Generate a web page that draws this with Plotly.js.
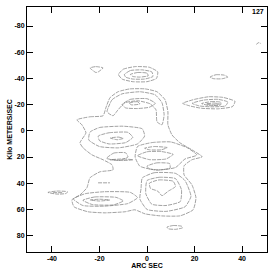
<!DOCTYPE html>
<html><head><meta charset="utf-8">
<script src="https://cdn.plot.ly/plotly-3.0.1.min.js"></script>
<style>html,body{margin:0;padding:0;background:#fff}#chart{width:273px;height:273px}</style>
</head><body><div id="chart"></div>
<script>
// Contour lines (position ARC SEC, velocity km/s), one array pair per contour level, null separates rings
const level1_x = [-24,-21.5,-18.5,-20.5,-21.5,-24, null,
  -12,-10,-5,1,4.5,4,0,-6,-10.5,-12, null,
  26.5,29,32.5,34,31.5,28,26.5, null,
  15,20,26,32,37,36,30,23,18,15, null,
  -29.5,-24,-18.5,-17.3,-15.6,-12.2,-7.2,-0.8,4.2,7.6,8.8,8.8,10.5,13.9,18.9,23.2,18.9,15.6,15.6,18.9,20.6,19.4,13.9,5.5,-0.8,-5.1,-9.3,-17.7,-24.8,-30.7,-31.6,-28.2,-25.3,-24,-19.8,-14.3,-14.7,-18.5,-23.2,-26.9,-28.2,-25.7,-27.4,-29.5, null,
  -41.7,-38,-33.5,-34,-38,-41.7, null,
  8.4,11,14.5,15,12,9,8.4, null,
  46,47,48];
const level1_y = [-48,-49,-48,-45,-44.5,-48, null,
  -43,-47,-49,-48.5,-45,-40,-37.5,-37.5,-39.5,-43, null,
  -41,-42.8,-42.5,-41,-39.7,-39.8,-41, null,
  -21,-24,-26,-25.5,-22.5,-18.5,-16.8,-17.2,-19,-21, null,
  -8.4,-10.7,-11.5,-17.6,-25.2,-29.8,-32,-32,-29.8,-23.7,-14.5,-4.6,3.1,9.2,14.5,19.8,22.1,26.7,33.6,41.2,51.1,60.3,64.9,64.9,63.4,60.3,61.8,62.6,61.8,58,52.7,48.9,43.5,35.9,31.3,29.8,26,22.1,18.3,13,9.2,1.5,-4.6,-8.4, null,
  47,46,46.5,47.8,48.3,47, null,
  73.5,72.3,72.8,74,75.2,74.8,73.5, null,
  -66,-67.3,-66.5];
const level2_x = [-9.5,-7,-2,2,2.5,-1,-6,-9,-9.5, null,
  19,24,30,34,33,27,22,19, null,
  -16.8,-14.7,-10.5,-2.9,3.4,6.3,7.2,6.3,4.2,3.8,1.3,-3.8,-9.3,-12.2,-14.3,-16.8, null,
  -24,-20,-10,-2,-1,-4,-12,-20,-24.5,-24, null,
  -4,2,10,17,21,16,12,4,-3,-5,-4, null,
  -31,-26,-18,-7,-4,-8,-18,-27,-31, null,
  -2,3,12,16,18.5,16,8,0,-3,-2.5,-2, null,
  -39.5,-35.5];
const level2_y = [-43,-46,-46.5,-45,-41.5,-39.5,-39.5,-41,-43, null,
  -21,-23.5,-24,-22,-19,-18.3,-19,-21, null,
  -14.5,-23.7,-28.2,-29.8,-27.5,-21.4,-12.2,-4.6,-6.9,-16,-20.6,-22.9,-21.4,-16,-11.5,-14.5, null,
  1,-2.5,-3.5,-1.5,4,10,13,12,7,1, null,
  12,9,8.5,13,18.5,21.5,28,30,27,20,12, null,
  52,48,46.5,47,51,55.5,57.5,57,52, null,
  36,32,32.5,38,50,58,61.5,60,52,44,36, null,
  47.2,47.2];
const level3_x = [-7,-4,0,0.5,-3,-6,-7, null,
  23,27,31,31,26,23, null,
  -10.5,-7,0,3.5,1,-4,-9,-10.5, null,
  -20.5,-16,-8,-6,-9,-16,-20,-20.5, null,
  -1,3,8.5,6,1,-1, null,
  -4,0,6,11,8,1,-4, null,
  0,4,9.5,9.7,5,1,0, null,
  -17,-14,-9,-8,-12,-17, null,
  -27,-22,-13,-10,-14,-23,-27, null,
  -20.6,-15.6, null,
  0,5,12,14.5,14,8,2,-0.5,0];
const level3_y = [-43,-44.5,-44,-42,-41,-41.5,-43, null,
  -20.8,-22.3,-21.8,-19.8,-19.3,-20.8, null,
  -20,-24,-24.5,-21,-18,-17,-17.5,-20, null,
  4,1.5,1.2,5,9,10,7.5,4, null,
  13.3,12,12.8,14.5,14.5,13.3, null,
  19,16,15.8,18,21.5,22,19, null,
  27,24.5,25,28.5,29.8,29,27, null,
  21,17,16.8,20,22.5,21, null,
  53,50.5,50.8,53.5,56.5,56.3,53, null,
  39.7,39.7, null,
  38,35.5,36.5,45,54,57,56,48,38];
const level4_x = [25,28,30.5,28,25, null,
  -7.5,-4,-3,-6.5,-7.5, null,
  -15.5,-12,-10,-12.5,-15.5, null,
  -15.6,-10,-5.9,-10,-15.6, null,
  -24,-20,-15.6,-20,-24, null,
  1,5,11,12,9,6.3,4.5,1.5,1];
const level4_y = [-20.5,-21.2,-20.5,-19.8,-20.5, null,
  -21.2,-22.2,-20.5,-19.8,-21.2, null,
  5.5,4.8,5.8,6.8,5.5, null,
  22.1,21.5,22.1,22.7,22.1, null,
  52.8,52.2,52.8,53.6,52.8, null,
  40,37.5,38.5,42.5,46,49.5,46,44,40];
const xTicks = [-40,-20,0,20,40];
const yTicks = [-80,-60,-40,-20,0,20,40,60,80];
const panelLabel = '127';

const lineStyle = {color:'#7a7a7a', width:0.7, dash:'4px,1px', shape:'spline', smoothing:0.5};
const traces = [[level1_x,level1_y],[level2_x,level2_y],[level3_x,level3_y],[level4_x,level4_y]].map(p => ({
  type:'scatter', mode:'lines', x:p[0], y:p[1], line:lineStyle, connectgaps:false, hoverinfo:'skip'
}));

const font = {family:'"Liberation Sans", Arial, sans-serif', size:7, color:'#000', weight:'bold'};
const axisCommon = {showline:true, linecolor:'#000', linewidth:1, mirror:'ticks', ticks:'inside', ticklen:6,
  tickwidth:1, tickcolor:'#000', showgrid:false, zeroline:false, tickfont:font};
const layout = {
  width:273, height:273, margin:{l:27, r:6, t:7, b:21},
  paper_bgcolor:'#fff', plot_bgcolor:'#fff', showlegend:false,
  xaxis:Object.assign({}, axisCommon, {range:[-50.5,50.5], tickvals:xTicks, ticktext:xTicks.map(String),
    title:{text:'ARC SEC', font:font, standoff:0}}),
  yaxis:Object.assign({}, axisCommon, {range:[92.5,-94.5], tickvals:yTicks, ticktext:yTicks.map(String),
    title:{text:'Kilo METERS/SEC', font:font, standoff:1}}),
  annotations:[{text:panelLabel, xref:'paper', yref:'paper', x:0.9625, y:0.98, xanchor:'center', yanchor:'middle',
    showarrow:false, font:font}]
};
Plotly.newPlot('chart', traces, layout, {staticPlot:true, displayModeBar:false});
</script></body></html>
